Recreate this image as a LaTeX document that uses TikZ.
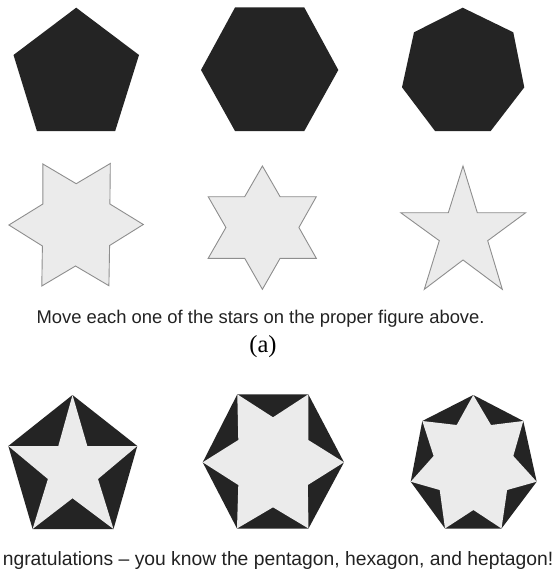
\documentclass[tikz,border=0pt]{standalone}
\usepackage{fontspec}
\setmainfont{Liberation Sans}
\newfontfamily\serifface{Liberation Serif}
\definecolor{polyfill}{HTML}{242424}
\definecolor{starfill}{HTML}{EBEBEB}
\definecolor{starline}{HTML}{8E8E8E}
\definecolor{textcol}{HTML}{222222}
\begin{document}
\begin{tikzpicture}[x=1pt,y=-1pt,
  polyshape/.style={fill=polyfill,draw=none},
  starshape/.style={fill=starfill,draw=starline,line width=0.9pt,line join=miter},
  innerstar/.style={fill=starfill,draw=none},
  caption/.style={text=textcol,inner sep=0pt,anchor=base,font=\fontsize{18.4}{22}\selectfont},
  label/.style={text=black,inner sep=0pt,anchor=base,font=\serifface\fontsize{24.5}{28}\selectfont}]
\useasboundingbox[fill=white] (0,0) rectangle (556,575);
% ---- row 1: polygons
\fill[polyshape] (76.2,7.7) -- (139,55) -- (115.2,131) -- (36.9,131) -- (13.5,55) -- cycle;
\fill[polyshape] (235,7.5) -- (304.3,7.5) -- (338.3,70) -- (304.3,131) -- (235,131) -- (201,70) -- cycle;
\fill[polyshape] (462.7,7.7) -- (513.3,32.3) -- (524.3,87.3) -- (490.7,131) -- (435,131) -- (402,87.3) -- (414,32.3) -- cycle;
% ---- row 2: stars
\draw[starshape] (8.9,225) -- (42.9,204) -- (42.9,164) -- (76.2,183.7) -- (110.3,163.5) -- (109.9,204) -- (143.3,224.5) -- (109.6,245.5) -- (108.9,285.7) -- (75.5,266) -- (41.8,286) -- (42.4,246) -- cycle;
\draw[starshape] (262.4,166) -- (280.1,196.7) -- (316.3,196.7) -- (298.9,227.5) -- (316.3,258.3) -- (280.1,258.3) -- (262.4,289.3) -- (244.7,258.3) -- (208.2,258.3) -- (225.9,227.5) -- (208.2,196.7) -- (244.7,196.7) -- cycle;
\draw[starshape] (463,166) -- (477.3,212.7) -- (525.7,212.7) -- (487.7,240.7) -- (502.3,289.3) -- (463,260) -- (424.3,289.3) -- (439.3,240.7) -- (400.7,212.7) -- (448.3,212.7) -- cycle;
% ---- captions
\node[caption] (cap1) at (260.6,323.3) {Move each one of the stars on the proper figure above.};
\node[label] (capa) at (263,352.5) {(a)};
% ---- row 3: polygons with stars inside
\fill[polyshape] (72.5,395) -- (137.3,446) -- (113.5,529) -- (32.6,529) -- (8.3,446) -- cycle;
\fill[innerstar] (72.5,395) -- (87.3,446) -- (137.3,446) -- (98,479) -- (113.5,529) -- (72.5,498.3) -- (32.6,529) -- (47.9,479) -- (8.3,446) -- (58.3,446) -- cycle;
\fill[polyshape] (237.3,394.3) -- (308.3,394.3) -- (344,462.3) -- (308.5,528.5) -- (237,528.5) -- (202.7,462.3) -- cycle;
\fill[innerstar] (237.3,394.3) -- (273,417.3) -- (308.3,394.3) -- (308.3,440) -- (344,462.3) -- (307.8,485) -- (308.5,528.5) -- (273,507.3) -- (237,528.5) -- (238.3,485) -- (202.7,462.3) -- (238.3,440) -- cycle;
\fill[polyshape] (473.3,395) -- (523.3,421) -- (536.7,481.7) -- (501.5,528.5) -- (445,528.5) -- (410.7,481.7) -- (422.3,421) -- cycle;
\fill[innerstar] (473.3,395) -- (491,425) -- (523.3,421) -- (513.3,456) -- (536.7,481.7) -- (507.1,490) -- (501.5,528.5) -- (473.4,510) -- (445,528.5) -- (439.7,490) -- (410.7,481.7) -- (433.6,456) -- (422.3,421) -- (456.7,425) -- cycle;
% ---- bottom caption
\node[caption,anchor=base east,font=\fontsize{19.3}{23}\selectfont] (cap2) at (553.5,565.5) {ngratulations – you know the pentagon, hexagon, and heptagon!};
\end{tikzpicture}
\end{document}
